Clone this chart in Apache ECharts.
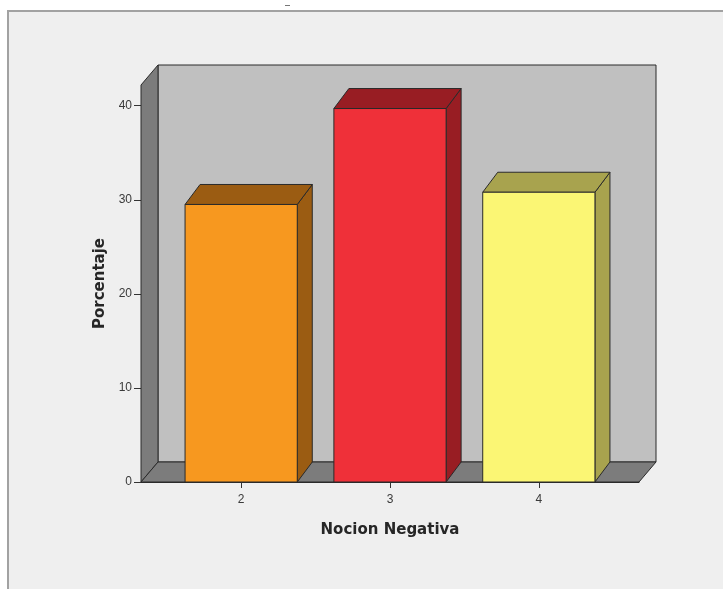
<!DOCTYPE html>
<html>
<head>
<meta charset="utf-8">
<title>Nocion Negativa</title>
<script src="https://cdn.jsdelivr.net/npm/echarts@6/dist/echarts.min.js"></script>
<style>
  html, body { margin: 0; padding: 0; background: #ffffff; }
  #chart { width: 723px; height: 589px; }
</style>
</head>
<body>
<div id="chart"></div>
<script>
// Categories of "Nocion Negativa" and their percentages
const categories = ['2', '3', '4'];
const porcentaje = [29.5, 39.7, 30.8];
const yTicks = [0, 10, 20, 30, 40];

// Front face colour and shaded (top / side) colour for each bar
const frontColors = ['#f7981f', '#ef3039', '#fbf674'];
const shadeColors = ['#9b5c12', '#981d23', '#a8a34e'];

const X_MIN = 1.327, X_MAX = 4.673;
const Y_MAX = 42.2;
const HALF_BAR = 0.377;
const WALL_DX = 17, WALL_DY = -20;
const BAR_DX = 15, BAR_DY = -20;
const EDGE = '#2a2a2a';

const chart = echarts.init(document.getElementById('chart'), null, { renderer: 'canvas' });

function poly(points, fill) {
  return {
    type: 'polygon',
    shape: { points: points },
    style: { fill: fill, stroke: EDGE, lineWidth: 1 }
  };
}

// Back wall, left wall and floor of the 3D box
function renderFrame(params, api) {
  const bl = api.coord([X_MIN, 0]);
  const tl = api.coord([X_MIN, Y_MAX]);
  const br = api.coord([X_MAX, 0]);
  const x0 = bl[0], y0 = bl[1], yt = tl[1], x1 = br[0];
  return {
    type: 'group',
    children: [
      poly([[x0 + WALL_DX, yt + WALL_DY], [x1 + WALL_DX, yt + WALL_DY],
            [x1 + WALL_DX, y0 + WALL_DY], [x0 + WALL_DX, y0 + WALL_DY]], '#c0c0c0'),
      poly([[x0, y0], [x0, yt], [x0 + WALL_DX, yt + WALL_DY], [x0 + WALL_DX, y0 + WALL_DY]], '#7c7c7c'),
      poly([[x0, y0], [x0 + WALL_DX, y0 + WALL_DY], [x1 + WALL_DX, y0 + WALL_DY], [x1, y0]], '#7c7c7c')
    ]
  };
}

// One 3D bar: front face, top face and right side face
function renderBar(params, api) {
  const x = api.value(0), v = api.value(1);
  const i = params.dataIndex;
  const lb = api.coord([x - HALF_BAR, 0]);
  const rt = api.coord([x + HALF_BAR, v]);
  const xl = lb[0], y0 = lb[1], xr = rt[0], yt = rt[1];
  return {
    type: 'group',
    children: [
      poly([[xr, yt], [xr + BAR_DX, yt + BAR_DY], [xr + BAR_DX, y0 + BAR_DY], [xr, y0]], shadeColors[i]),
      poly([[xl, yt], [xl + BAR_DX, yt + BAR_DY], [xr + BAR_DX, yt + BAR_DY], [xr, yt]], shadeColors[i]),
      poly([[xl, y0], [xl, yt], [xr, yt], [xr, y0]], frontColors[i])
    ]
  };
}

const labelFont = { fontFamily: 'Liberation Sans', fontSize: 12, color: '#3a3a3a' };
const nameFont = { fontFamily: 'DejaVu Sans', fontSize: 15, fontWeight: 'bold', color: '#262626' };

chart.setOption({
  backgroundColor: '#ffffff',
  animation: false,
  graphic: [
    {
      type: 'rect',
      z: -10,
      shape: { x: 8, y: 11, width: 730, height: 600 },
      style: { fill: '#efefef', stroke: '#a2a2a2', lineWidth: 2 }
    },
    {
      type: 'rect',
      z: -10,
      shape: { x: 285, y: 5, width: 5, height: 1 },
      style: { fill: '#777777' }
    }
  ],
  grid: { left: 141, right: 84, top: 85, bottom: 107 },
  xAxis: {
    type: 'value',
    min: X_MIN,
    max: X_MAX,
    name: 'Nocion Negativa',
    nameLocation: 'middle',
    nameGap: 41,
    nameTextStyle: nameFont,
    splitLine: { show: false },
    axisLine: { show: true, lineStyle: { color: '#2a2a2a', width: 1 } },
    axisTick: { show: true, length: 6, customValues: categories.map(Number), lineStyle: { color: '#333' } },
    axisLabel: Object.assign({ margin: 12, customValues: categories.map(Number),
      formatter: (val) => categories[categories.indexOf(String(Math.round(val)))] }, labelFont)
  },
  yAxis: {
    type: 'value',
    min: 0,
    max: Y_MAX,
    name: 'Porcentaje',
    nameLocation: 'middle',
    nameGap: 33,
    nameRotate: 90,
    nameTextStyle: nameFont,
    splitLine: { show: false },
    axisLine: { show: true, lineStyle: { color: '#2a2a2a', width: 1 } },
    axisTick: { show: true, length: 7, customValues: yTicks, lineStyle: { color: '#333' } },
    axisLabel: Object.assign({ margin: 9, customValues: yTicks }, labelFont)
  },
  series: [
    {
      type: 'custom',
      renderItem: renderFrame,
      clip: false,
      silent: true,
      z: 1,
      data: [[X_MIN, 0]]
    },
    {
      type: 'custom',
      renderItem: renderBar,
      clip: false,
      z: 2,
      data: categories.map((c, i) => [Number(c), porcentaje[i]])
    }
  ]
});
</script>
</body>
</html>
